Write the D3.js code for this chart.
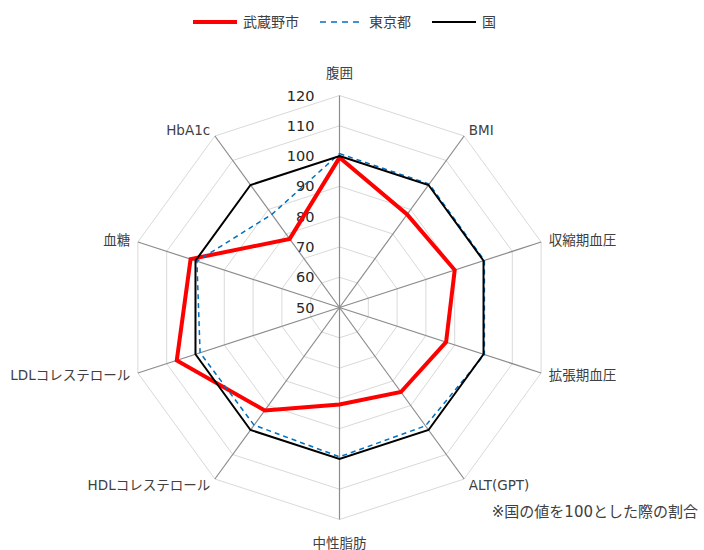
<!DOCTYPE html>
<html lang="ja">
<head>
  <meta charset="UTF-8">
  <title>健診結果 レーダーチャート</title>
  <script src="https://cdn.jsdelivr.net/npm/d3@7"></script>
</head>

<style>
body { margin: 0; background: #fff; }
svg { font-family: "DejaVu Sans", "Noto Sans CJK JP", sans-serif; }
</style>

<body>
  <svg width="704" height="550"></svg>

  <script>
    // axes, clockwise from the top
    var categories = ["腹囲", "BMI", "収縮期血圧", "拡張期血圧", "ALT(GPT)", "中性脂肪",
                      "HDLコレステロール", "LDLコレステロール", "血糖", "HbA1c"];
    var ticks = [50, 60, 70, 80, 90, 100, 110, 120];

    // values, 国 = 100
    var musashino = [99.5, 88, 90, 87, 84.5, 82, 92, 106.5, 101.7, 78];
    var tokyo     = [100.8, 100.4, 100.3, 100.3, 98.3, 99.3, 98, 98.4, 99.5, 88];
    var kuni      = [100, 100, 100, 100, 100, 100, 100, 100, 100, 100];

    var seriesNames = ["武蔵野市", "東京都", "国"];

    var cx = 339.5, cy = 307.5, R = 212;
    var svg = d3.select("svg");

    var r = d3.scaleLinear().domain([50, 120]).range([0, R]);
    var angle = d3.scalePoint().domain(categories).range([0, 2 * Math.PI * (1 - 1 / categories.length)]);

    function pt(cat, v) {
      var a = angle(cat);
      return [cx + r(v) * Math.sin(a), cy - r(v) * Math.cos(a)];
    }

    var g = svg.append("g");

    // rings
    g.selectAll("polygon.ring")
      .data(ticks.slice(1))
      .enter()
      .append("polygon")
      .attr("class", "ring")
      .attr("points", t => categories.map(c => pt(c, t)).join(" "))
      .attr("fill", "none")
      .attr("stroke", "#d9d9d9")
      .attr("stroke-width", 1);

    // spokes
    g.selectAll("line.spoke")
      .data(categories)
      .enter()
      .append("line")
      .attr("x1", cx).attr("y1", cy)
      .attr("x2", c => pt(c, 120)[0])
      .attr("y2", c => pt(c, 120)[1])
      .attr("stroke", "#8c8c8c")
      .attr("stroke-width", 1.2);

    // tick labels
    g.selectAll("text.tick")
      .data(ticks)
      .enter()
      .append("text")
      .attr("x", cx - 25)
      .attr("y", t => cy - r(t))
      .attr("text-anchor", "end")
      .attr("dominant-baseline", "central")
      .style("font-size", "14.5px")
      .attr("fill", "#262626")
      .text(t => t);

    // category labels
    g.selectAll("text.cat")
      .data(categories)
      .enter()
      .append("text")
      .attr("x", c => cx + (R + 8) * Math.sin(angle(c)))
      .attr("y", c => {
        var co = Math.cos(angle(c));
        var y = cy - (R + 8) * co;
        if (Math.abs(co) > 0.9) y -= co * 15;
        return y;
      })
      .attr("text-anchor", c => {
        var s = Math.sin(angle(c));
        return s > 0.1 ? "start" : s < -0.1 ? "end" : "middle";
      })
      .attr("dominant-baseline", "central")
      .style("font-size", "13.5px")
      .attr("fill", "#404040")
      .text(c => c);

    // series (Excel order: first drawn underneath)
    var series = [
      {name: seriesNames[0], values: musashino, color: "#ff0000", width: 4, dash: null},
      {name: seriesNames[1], values: tokyo, color: "#0070c0", width: 1.5, dash: "5,4"},
      {name: seriesNames[2], values: kuni, color: "#000000", width: 2, dash: null}
    ];

    g.selectAll("polygon.series")
      .data(series)
      .enter()
      .append("polygon")
      .attr("points", s => categories.map((c, i) => pt(c, s.values[i])).join(" "))
      .attr("fill", "none")
      .attr("stroke", s => s.color)
      .attr("stroke-width", s => s.width)
      .attr("stroke-dasharray", s => s.dash)
      .attr("stroke-linejoin", "miter");

    // legend
    var legendX = [193, 320, 432];
    var lg = svg.selectAll("g.legend")
      .data(series)
      .enter()
      .append("g")
      .attr("transform", (s, i) => "translate(" + legendX[i] + ",22)");
    lg.append("line")
      .attr("x1", 0).attr("x2", (s, i) => i == 1 ? 43 : 44)
      .attr("stroke", s => s.color)
      .attr("stroke-width", s => s.width)
      .attr("stroke-dasharray", s => s.dash ? "6,5" : null);
    lg.append("text")
      .attr("x", (s, i) => i == 1 ? 49 : 50)
      .attr("dominant-baseline", "central")
      .style("font-size", "14px")
      .attr("fill", "#404040")
      .text(s => s.name);

    // note
    svg.append("text")
      .attr("x", 698)
      .attr("y", 512)
      .attr("text-anchor", "end")
      .attr("dominant-baseline", "central")
      .style("font-size", "15px")
      .attr("fill", "#404040")
      .text("※国の値を100とした際の割合");
  </script>
</body>
</html>
